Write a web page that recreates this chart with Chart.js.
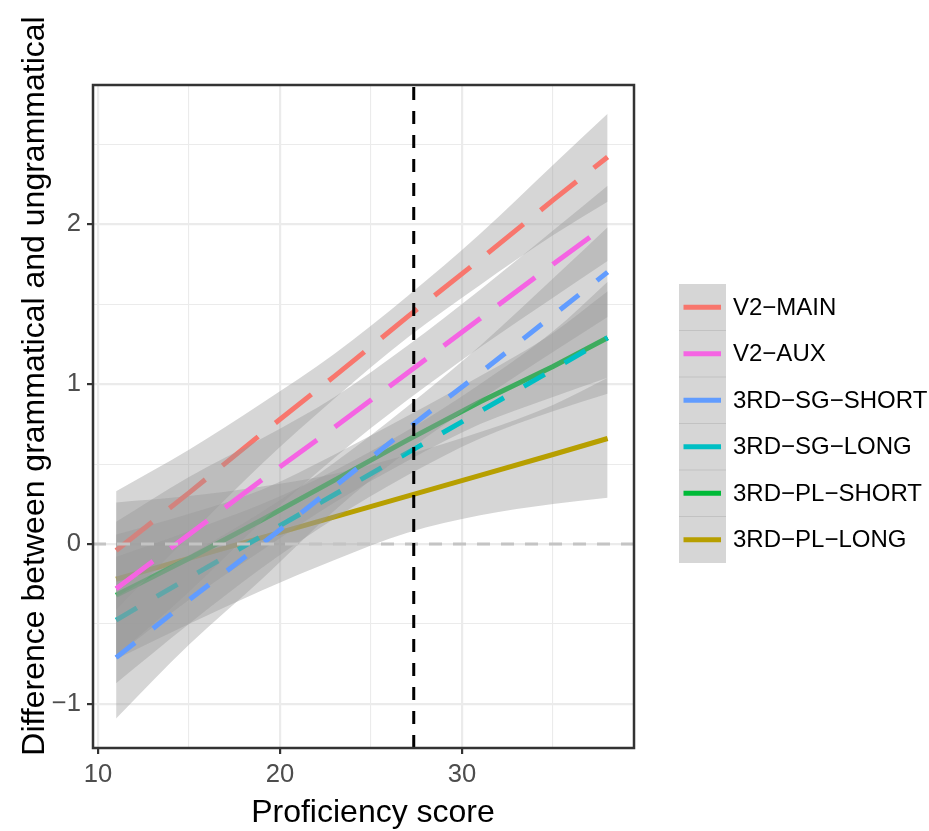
<!DOCTYPE html>
<html>
<head>
<meta charset="utf-8">
<script src="https://cdn.jsdelivr.net/npm/chart.js@4.4.1/dist/chart.umd.min.js"></script>
<style>
  html, body { margin: 0; padding: 0; background: #fff; }
  canvas { display: block; }
</style>
</head>
<body>
<canvas id="chart" width="929" height="831"></canvas>
<script>
// proficiency scores where the fitted values were read
const xs = [11, 15, 19, 23, 27, 31, 35, 38];

// fitted lines and their confidence bands
const v2Main   = [-0.04, 0.32, 0.69, 1.05, 1.42, 1.78, 2.15, 2.42];
const v2MainHi = [0.33, 0.59, 0.88, 1.19, 1.55, 1.94, 2.37, 2.69];
const v2MainLo = [-0.41, 0.05, 0.50, 0.91, 1.29, 1.62, 1.93, 2.14];

const v2Aux   = [-0.28, 0.06, 0.40, 0.73, 1.07, 1.41, 1.75, 2.00];
const v2AuxHi = [0.14, 0.42, 0.66, 0.92, 1.24, 1.59, 1.96, 2.24];
const v2AuxLo = [-0.70, -0.30, 0.14, 0.54, 0.90, 1.23, 1.54, 1.77];

const sgShort   = [-0.71, -0.35, 0.00, 0.36, 0.72, 1.07, 1.43, 1.70];
const sgShortHi = [-0.33, -0.07, 0.20, 0.51, 0.86, 1.24, 1.66, 1.98];
const sgShortLo = [-1.09, -0.63, -0.22, 0.21, 0.58, 0.90, 1.20, 1.42];

const sgLong   = [-0.475, -0.21, 0.05, 0.31, 0.57, 0.83, 1.09, 1.29];
const sgLongHi = [-0.08, 0.08, 0.25, 0.46, 0.71, 1.00, 1.33, 1.64];
const sgLongLo = [-0.87, -0.50, -0.15, 0.16, 0.43, 0.66, 0.83, 0.94];

const plShort   = [-0.32, -0.09, 0.15, 0.40, 0.65, 0.89, 1.11, 1.29];
const plShortHi = [0.06, 0.19, 0.34, 0.56, 0.80, 1.05, 1.32, 1.58];
const plShortLo = [-0.70, -0.35, -0.04, 0.26, 0.52, 0.75, 0.92, 1.04];

const plLong   = [-0.22, -0.09, 0.04, 0.17, 0.30, 0.43, 0.56, 0.66];
const plLongHi = [0.26, 0.30, 0.36, 0.44, 0.56, 0.70, 0.87, 1.04];
const plLongLo = [-0.72, -0.50, -0.29, -0.10, 0.07, 0.18, 0.25, 0.29];

// legend order
const legendNames  = ['V2\u2212MAIN', 'V2\u2212AUX', '3RD\u2212SG\u2212SHORT', '3RD\u2212SG\u2212LONG', '3RD\u2212PL\u2212SHORT', '3RD\u2212PL\u2212LONG'];
const legendColors = ['#F8766D', '#F564E3', '#619CFF', '#00BFC4', '#00BA38', '#B79F00'];

const xTicks = [10, 15, 20, 25, 30, 35];
const yTicks = [-1, -0.5, 0, 0.5, 1, 1.5, 2, 2.5];
const cutoff = 27.35;   // vertical dashed line
const zeroLine = 0;

const longDash = [46, 22];
const shortDash = [24, 23];

// drawing order, first one is painted first (like ggplot groups)
const groups = [
  { mid: plLong,  hi: plLongHi,  lo: plLongLo,  color: '#B79F00', dash: [] },
  { mid: plShort, hi: plShortHi, lo: plShortLo, color: '#00BA38', dash: [] },
  { mid: v2Main,  hi: v2MainHi,  lo: v2MainLo,  color: '#F8766D', dash: longDash },
  { mid: sgLong,  hi: sgLongHi,  lo: sgLongLo,  color: '#00BFC4', dash: shortDash },
  { mid: v2Aux,   hi: v2AuxHi,   lo: v2AuxLo,   color: '#F564E3', dash: longDash },
  { mid: sgShort, hi: sgShortHi, lo: sgShortLo, color: '#619CFF', dash: shortDash }
];

const pts = arr => xs.map((x, i) => ({ x: x, y: arr[i] }));

const datasets = [];
groups.forEach((g, k) => {
  const base = k * 3;
  // band edges are smooth curves, the fitted lines stay straight
  datasets.push({
    data: pts(g.hi), fill: base + 1, backgroundColor: 'rgba(153,153,153,0.4)',
    borderWidth: 0, pointRadius: 0, cubicInterpolationMode: 'monotone', order: 1000 - base
  });
  datasets.push({
    data: pts(g.lo), fill: false, borderWidth: 0, pointRadius: 0,
    cubicInterpolationMode: 'monotone', order: 1000 - base - 1
  });
  datasets.push({
    data: pts(g.mid), fill: false, borderColor: g.color, borderWidth: 5,
    borderDash: g.dash, borderCapStyle: 'butt', pointRadius: 0, order: 1000 - base - 2
  });
});

const FONT = '"Liberation Sans", Arial, Helvetica, sans-serif';

const decorations = {
  id: 'decorations',
  afterDatasetsDraw(chart) {
    const { ctx, chartArea: a, scales } = chart;
    ctx.save();
    // horizontal dashed line at zero
    const y0 = scales.y.getPixelForValue(zeroLine);
    ctx.strokeStyle = '#c4c4c4';
    ctx.lineWidth = 3;
    ctx.setLineDash([13, 11]);
    ctx.beginPath();
    ctx.moveTo(a.left, y0);
    ctx.lineTo(a.right, y0);
    ctx.stroke();
    // vertical dashed line
    const xv = scales.x.getPixelForValue(cutoff);
    ctx.strokeStyle = '#000';
    ctx.lineWidth = 3;
    ctx.setLineDash([13, 11]);
    ctx.beginPath();
    ctx.moveTo(xv, a.bottom);
    ctx.lineTo(xv, a.top);
    ctx.stroke();
    // panel border
    ctx.setLineDash([]);
    ctx.strokeStyle = '#333333';
    ctx.lineWidth = 2.5;
    ctx.strokeRect(a.left, a.top, a.right - a.left, a.bottom - a.top);
    ctx.restore();
  },
  afterDraw(chart) {
    const { ctx } = chart;
    ctx.save();
    ctx.fillStyle = '#000';
    ctx.font = '32px ' + FONT;
    ctx.textAlign = 'center';
    ctx.textBaseline = 'alphabetic';
    ctx.fillText('Proficiency score', 373, 822);
    ctx.translate(44, 386);
    ctx.rotate(-Math.PI / 2);
    ctx.fillText('Difference between grammatical and ungrammatical', 0, 0);
    ctx.restore();

    // legend
    ctx.save();
    const kx = 679, ky = 284, kw = 47, kh = 46.5;
    legendNames.forEach((name, i) => {
      const top = ky + i * kh;
      ctx.fillStyle = '#d6d6d6';
      ctx.fillRect(kx, top, kw, kh);
      if (i > 0) {
        ctx.strokeStyle = '#c2c2c2';
        ctx.lineWidth = 1;
        ctx.beginPath();
        ctx.moveTo(kx, top);
        ctx.lineTo(kx + kw, top);
        ctx.stroke();
      }
      const cy = top + kh / 2;
      ctx.strokeStyle = legendColors[i];
      ctx.lineWidth = 5;
      ctx.beginPath();
      ctx.moveTo(kx + 4.5, cy);
      ctx.lineTo(kx + 42, cy);
      ctx.stroke();
      ctx.fillStyle = '#000';
      ctx.font = '24px ' + FONT;
      ctx.textAlign = 'left';
      ctx.textBaseline = 'middle';
      ctx.fillText(name, 733, cy + 1);
    });
    ctx.restore();
  }
};

const isMajorX = v => v % 10 === 0;
const isMajorY = v => Number.isInteger(v);

new Chart(document.getElementById('chart'), {
  type: 'line',
  data: { datasets: datasets },
  options: {
    responsive: false,
    animation: false,
    events: [],
    layout: { padding: { top: 85, right: 295, bottom: 0, left: 0 } },
    plugins: { legend: { display: false }, tooltip: { enabled: false } },
    scales: {
      x: {
        type: 'linear',
        min: 9.73,
        max: 39.45,
        afterBuildTicks: s => { s.ticks = xTicks.map(v => ({ value: v })); },
        afterFit: s => { s.height = 83; },
        border: { display: false },
        grid: {
          color: '#ebebeb',
          lineWidth: c => (c.tick && isMajorX(c.tick.value)) ? 2.2 : 1.1,
          tickLength: 6,
          tickWidth: 2.2,
          tickColor: c => (c.tick && isMajorX(c.tick.value)) ? '#333333' : 'rgba(0,0,0,0)'
        },
        ticks: {
          autoSkip: false,
          maxRotation: 0,
          padding: 6,
          color: '#4d4d4d',
          font: { size: 25.6, family: FONT },
          callback: v => isMajorX(v) ? String(v) : ''
        }
      },
      y: {
        min: -1.275,
        max: 2.87,
        afterBuildTicks: s => { s.ticks = yTicks.map(v => ({ value: v })); },
        afterFit: s => { s.width = 93; },
        border: { display: false },
        grid: {
          color: '#ebebeb',
          lineWidth: c => (c.tick && isMajorY(c.tick.value)) ? 2.2 : 1.1,
          tickLength: 6,
          tickWidth: 2.2,
          tickColor: c => (c.tick && isMajorY(c.tick.value)) ? '#333333' : 'rgba(0,0,0,0)'
        },
        ticks: {
          autoSkip: false,
          padding: 6,
          color: '#4d4d4d',
          font: { size: 25.6, family: FONT },
          callback: v => isMajorY(v) ? (v < 0 ? '\u2212' + Math.abs(v) : String(v)) : ''
        }
      }
    }
  },
  plugins: [decorations]
});
</script>
</body>
</html>
